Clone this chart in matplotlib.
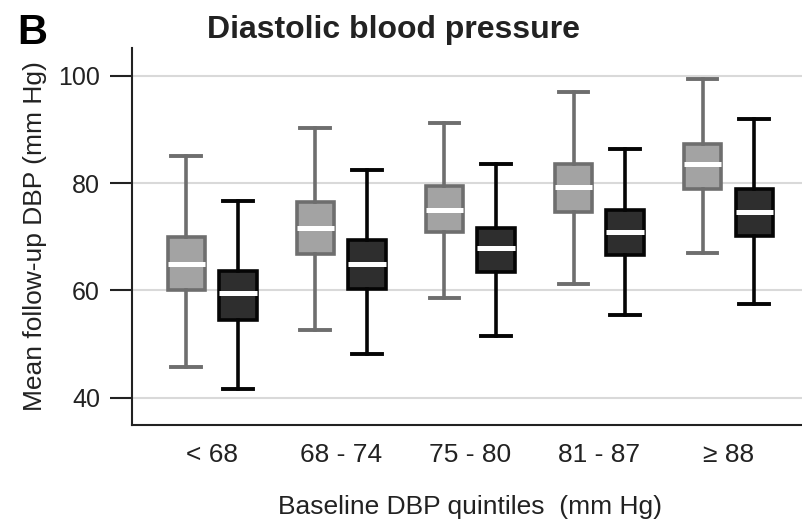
import matplotlib.pyplot as plt

plt.rcParams['font.family'] = ['Liberation Sans', 'DejaVu Sans']

quintiles = ['< 68', '68 - 74', '75 - 80', '81 - 87', '\u2265 88']

# light grey boxes
light_whislo = [45.8, 52.6, 58.5, 61.2, 66.9]
light_q1 = [60.0, 66.8, 70.9, 74.6, 79.0]
light_med = [65.0, 71.6, 74.9, 79.2, 83.6]
light_q3 = [70.0, 76.4, 79.4, 83.6, 87.3]
light_whishi = [85.0, 90.2, 91.2, 97.0, 99.4]

# dark boxes
dark_whislo = [41.7, 48.1, 51.5, 55.4, 57.4]
dark_q1 = [54.5, 60.2, 63.5, 66.6, 70.1]
dark_med = [59.5, 64.9, 67.9, 70.8, 74.6]
dark_q3 = [63.7, 69.4, 71.7, 74.9, 78.9]
dark_whishi = [76.7, 82.5, 83.6, 86.3, 92.0]


def make_stats(lo, q1, med, q3, hi):
    return [dict(whislo=a, q1=b, med=c, q3=d, whishi=e, fliers=[])
            for a, b, c, d, e in zip(lo, q1, med, q3, hi)]


def draw_boxes(ax, stats, positions, face, edge):
    ax.bxp(stats, positions=positions, widths=0.29, patch_artist=True,
           showfliers=False, capwidths=0.23,
           boxprops=dict(facecolor=face, edgecolor=edge, linewidth=2.6),
           whiskerprops=dict(color=edge, linewidth=2.6),
           capprops=dict(color=edge, linewidth=2.8),
           medianprops=dict(color='white', linewidth=3.6),
           zorder=3)


fig = plt.figure(figsize=(8.02, 5.19), dpi=100)
ax = fig.add_axes([0.1646, 0.1811, 0.8354, 0.7264])

x = list(range(len(quintiles)))
draw_boxes(ax, make_stats(light_whislo, light_q1, light_med, light_q3, light_whishi),
           [i - 0.2 for i in x], '#a3a3a3', '#6e6e6e')
draw_boxes(ax, make_stats(dark_whislo, dark_q1, dark_med, dark_q3, dark_whishi),
           [i + 0.2 for i in x], '#2e2e2e', '#050505')

ax.set_xlim(-0.62, 4.57)
ax.set_ylim(34.9, 105.2)
ax.set_yticks([40, 60, 80, 100])
ax.set_xticks(x)
ax.set_xticklabels(quintiles)
ax.yaxis.grid(True, color='#d9d9d9', linewidth=1.5, zorder=0)
ax.set_axisbelow(True)

for side in ['top', 'right']:
    ax.spines[side].set_visible(False)
for side in ['left', 'bottom']:
    ax.spines[side].set_linewidth(1.5)
    ax.spines[side].set_color('#222222')

ax.tick_params(axis='y', length=16, width=1.5, pad=7, labelsize=18, colors='#222222')
ax.tick_params(axis='x', length=0, pad=13, labelsize=19, colors='#222222')

ax.set_ylabel('Mean follow-up DBP (mm Hg)', fontsize=19, color='#222222', labelpad=8)
fig.text(0.586, 0.023, 'Baseline DBP quintiles  (mm Hg)', fontsize=19,
         color='#222222', ha='center', va='center')
fig.text(0.491, 0.942, 'Diastolic blood pressure', fontsize=23, fontweight='bold',
         color='#222222', ha='center', va='center')
fig.text(0.021, 0.936, 'B', fontsize=30, fontweight='bold', color='black',
         ha='left', va='center')

plt.savefig('out.png', dpi=100)
plt.close(fig)
